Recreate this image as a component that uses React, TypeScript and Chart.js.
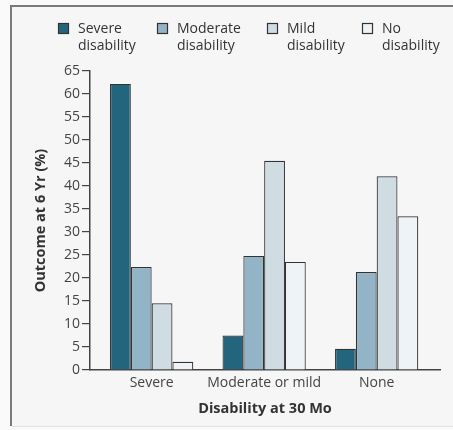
import React, { useEffect, useRef } from "react";
import { Chart, registerables } from "chart.js";

Chart.register(...registerables);

const categories = ["Severe", "Moderate or mild", "None"];
const severeDisability = [62.2, 7.5, 4.6];
const moderateDisability = [22.4, 24.8, 21.3];
const mildDisability = [14.5, 45.5, 42.1];
const noDisability = [1.8, 23.5, 33.4];
const seriesLabels = [
  ["Severe", "disability"],
  ["Moderate", "disability"],
  ["Mild", "disability"],
  ["No", "disability"],
];
const yMin = 0;
const yMax = 65;
const yStep = 5;

const COLORS = ["#24657e", "#93b4c6", "#cfdce2", "#eef3f7"];
const BORDER = "#333333";
const TEXT = "#333333";
const TICK_TEXT = "#444444";
const FONT = "'Open Sans', 'DejaVu Sans', sans-serif";
const LEGEND_X = [58, 157, 267, 362];
const X_START_OFFSET = 0.548;
const X_END_OFFSET = 0.563;

const framePlugin = {
  id: "frame",
  beforeDraw(chart: any) {
    const { ctx, width, height } = chart;
    ctx.save();
    ctx.fillStyle = "#fafafa";
    ctx.fillRect(0, 0, width, height);
    ctx.fillStyle = "#f6f6f6";
    ctx.fillRect(11, 6, width - 11, 420);
    ctx.strokeStyle = "#7a7a7a";
    ctx.lineWidth = 2;
    ctx.beginPath();
    ctx.moveTo(11, 426);
    ctx.lineTo(11, 6);
    ctx.lineTo(width, 6);
    ctx.stroke();
    ctx.strokeStyle = "#e2e2e2";
    ctx.lineWidth = 1;
    ctx.beginPath();
    ctx.moveTo(12, 426.5);
    ctx.lineTo(width, 426.5);
    ctx.stroke();
    ctx.restore();
  },
  afterDraw(chart: any) {
    const { ctx } = chart;
    ctx.save();
    chart.data.datasets.forEach((ds: any, i: number) => {
      const x = LEGEND_X[i];
      ctx.fillStyle = ds.backgroundColor;
      ctx.fillRect(x, 23, 11, 11);
      ctx.strokeStyle = BORDER;
      ctx.lineWidth = 1.2;
      ctx.strokeRect(x + 0.5, 23.5, 10, 10);
      ctx.fillStyle = TEXT;
      ctx.font = `14px ${FONT}`;
      ctx.textBaseline = "middle";
      ctx.textAlign = "left";
      const lines = ds.legendLines as string[];
      lines.forEach((t, j) => {
        ctx.fillText(t, x + 20, 29 + j * 17);
      });
    });
    ctx.restore();
  },
};

export default function App() {
  const ref = useRef<HTMLCanvasElement | null>(null);
  useEffect(() => {
    if (!ref.current) return;
    const series = [severeDisability, moderateDisability, mildDisability, noDisability];
    const chart = new Chart(ref.current, {
      type: "bar",
      data: {
        labels: categories,
        datasets: series.map((d, i) => ({
          label: seriesLabels[i].join(" "),
          legendLines: seriesLabels[i],
          data: d,
          backgroundColor: COLORS[i],
          borderColor: BORDER,
          borderWidth: 1.2,
          categoryPercentage: 0.74,
          barPercentage: 1,
        })) as any,
      },
      options: {
        animation: false,
        responsive: true,
        maintainAspectRatio: false,
        layout: { padding: { top: 71, right: 13, bottom: 0, left: 0 } },
        plugins: {
          legend: { display: false },
          tooltip: { enabled: false },
          title: { display: false },
        },
        scales: {
          x: {
            type: "category",
            offset: true,
            grid: { display: false },
            border: { display: true, color: "#444", width: 1.5 },
            ticks: {
              color: TICK_TEXT,
              font: { family: FONT, size: 14 },
              padding: -3,
              maxRotation: 0,
              autoSkip: false,
            },
            title: {
              display: true,
              text: "Disability at 30 Mo",
              color: TEXT,
              font: { family: FONT, size: 14.5, weight: "bold" },
              padding: { top: 0, bottom: 12 },
            },
            afterBuildTicks(scale: any) {
              const n = scale.chart.data.labels.length;
              scale._startValue = -X_START_OFFSET;
              scale._valueRange = n - 1 + X_START_OFFSET + X_END_OFFSET;
            },
            afterFit(scale: any) {
              scale.height = 60;
            },
          },
          y: {
            min: yMin,
            max: yMax,
            grid: {
              display: true,
              drawOnChartArea: false,
              drawTicks: true,
              tickLength: 8,
              color: "#444",
              lineWidth: 1.2,
            },
            border: { display: true, color: "#444", width: 1.5 },
            ticks: {
              stepSize: yStep,
              color: TICK_TEXT,
              font: { family: FONT, size: 14 },
              padding: 2,
              autoSkip: false,
            },
            title: {
              display: true,
              text: "Outcome at 6 Yr (%)",
              color: TEXT,
              font: { family: FONT, size: 14.5, weight: "bold" },
              padding: { top: 32, bottom: 0 },
            },
            afterFit(scale: any) {
              scale.width = 90;
            },
          },
        },
      },
      plugins: [framePlugin],
    });
    return () => chart.destroy();
  }, []);
  return (
    <div style={{ position: "fixed", left: 0, top: 0, width: 453, height: 430 }}>
      <canvas ref={ref} />
    </div>
  );
}
